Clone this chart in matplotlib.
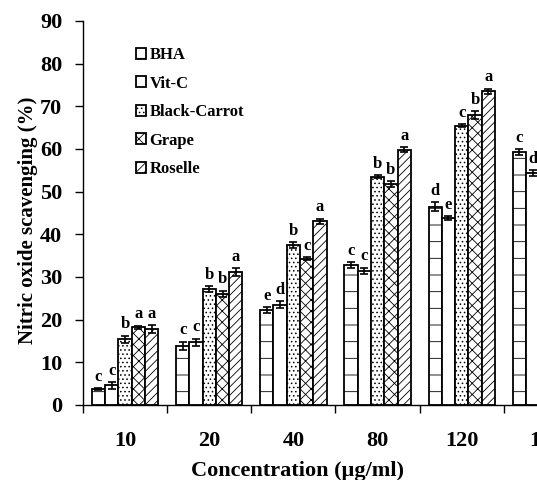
import numpy as np
import matplotlib
matplotlib.use("Agg")
from matplotlib import pyplot as plt

# Values (the 160 group is cut off on the right)
concentrations = ["10", "20", "40", "80", "120", "160"]
series_names = ["BHA", "Vit-C", "Black-Carrot", "Grape", "Roselle"]

bha = [3.7, 13.9, 22.2, 32.8, 46.5, 59.2]
vitc = [4.6, 14.7, 23.5, 31.5, 43.8, 54.3]
black_carrot = [15.4, 27.2, 37.5, 53.5, 65.5, np.nan]
grape = [18.2, 26.1, 34.3, 51.8, 68.0, np.nan]
roselle = [17.8, 31.2, 43.1, 59.8, 73.5, np.nan]

bha_err = [0.3, 0.9, 0.7, 0.6, 1.0, 0.7]
vitc_err = [0.8, 0.8, 0.8, 0.7, 0.4, 0.7]
black_carrot_err = [0.8, 0.7, 0.6, 0.3, 0.3, np.nan]
grape_err = [0.4, 0.7, 0.3, 0.7, 0.9, np.nan]
roselle_err = [0.9, 0.9, 0.6, 0.6, 0.6, np.nan]

bha_letters = ["c", "c", "e", "c", "d", "c"]
vitc_letters = ["c", "c", "d", "c", "e", "d"]
black_carrot_letters = ["b", "b", "b", "b", "c", ""]
grape_letters = ["a", "b", "c", "b", "b", ""]
roselle_letters = ["a", "a", "a", "a", "a", ""]

values = [bha, vitc, black_carrot, grape, roselle]
errors = [bha_err, vitc_err, black_carrot_err, grape_err, roselle_err]
letters = [bha_letters, vitc_letters, black_carrot_letters, grape_letters, roselle_letters]
hatches = ["-", "", "....", "xxx", "////"]

plt.rcParams["font.family"] = ["Liberation Serif", "DejaVu Serif"]
plt.rcParams["font.weight"] = "bold"
plt.rcParams["hatch.linewidth"] = 0.6

fig = plt.figure(figsize=(5.37, 4.8), dpi=100)
# axes runs past the right edge, like the cropped original
ax = fig.add_axes([83 / 537, 75 / 480, 505 / 537, 384 / 480])

x = np.arange(len(concentrations))
width = 0.158
for i, (vals, errs, lets, h, name) in enumerate(zip(values, errors, letters, hatches, series_names)):
    pos = x + (i - 2) * width
    ax.bar(pos, vals, width, yerr=errs, color="white", edgecolor="black",
           linewidth=1.3, hatch=h, label=name,
           error_kw=dict(ecolor="black", elinewidth=1.2, capsize=3, capthick=1.2))
    for px, v, e, t in zip(pos, vals, errs, lets):
        if t and not np.isnan(v):
            ax.text(px, v + e + 0.8, t, ha="center", va="bottom",
                    fontsize=12, fontweight="bold")

ax.set_ylim(0, 90)
ax.set_xlim(-0.5, 5.5)
ax.set_yticks(np.arange(0, 91, 10))
ax.set_xticks(x)
ax.set_xticklabels(concentrations)
ax.set_xticks(np.arange(-0.5, 6, 1), minor=True)
ax.tick_params(axis="x", which="major", length=0, pad=19, labelsize=16)
ax.tick_params(axis="x", which="minor", length=6, width=1, direction="out")
ax.tick_params(axis="y", length=6, width=1, direction="out", pad=9, labelsize=16)

ax.spines["top"].set_visible(False)
ax.spines["right"].set_visible(False)
ax.spines["left"].set_linewidth(1)
ax.spines["bottom"].set_linewidth(1)

ax.set_xlabel("Concentration (µg/ml)", fontsize=16, fontweight="bold")
ax.xaxis.set_label_coords(0.424, -0.145)
ax.set_ylabel("Nitric oxide scavenging (%)", fontsize=15, fontweight="bold")
ax.yaxis.set_label_coords(-0.09, 0.48)

leg = ax.legend(loc="upper left", bbox_to_anchor=(0.105, 0.932), frameon=False,
                fontsize=12, handlelength=0.6, handleheight=0.6, handletextpad=0.2,
                labelspacing=0.75, borderpad=0, borderaxespad=0)

fig.savefig("out.png", dpi=100)
